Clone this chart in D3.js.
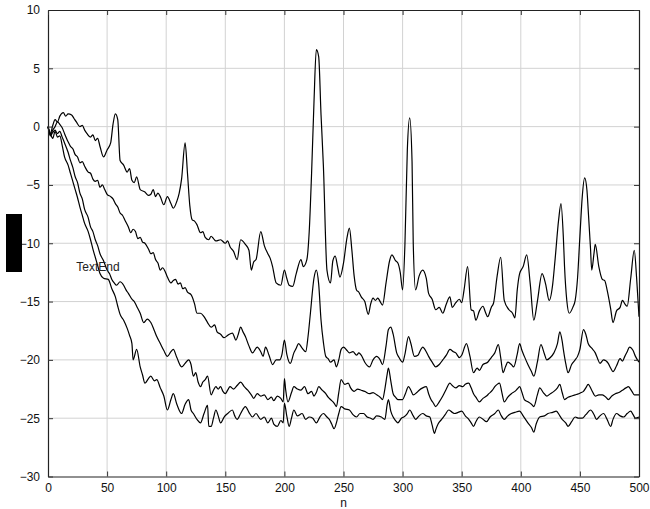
<!DOCTYPE html>
<html>
<head>
<meta charset="utf-8">
<script src="https://cdn.jsdelivr.net/npm/d3@7/dist/d3.min.js"></script>
<style>
  body { margin: 0; background: #fff; }
  text { font-family: "Liberation Sans", Arial, Helvetica, sans-serif; }
</style>
</head>
<body>
<div id="chart"></div>
<script>
// Axis ticks
var xTicks = [0, 50, 100, 150, 200, 250, 300, 350, 400, 450, 500];
var yTicks = [-30, -25, -20, -15, -10, -5, 0, 5, 10];

// Curves as [n, value]
var seriesA = [[0,0],[2,-0.6],[4,0.1],[6,0.6],[8,0.4],[10,0.9],[13,1.2],[15,0.9],[17,1.1],[20,1.0],[22,0.7],[24,0.4],[27,0.0],[29,0.1],[31,-0.3],[33,-0.6],[36,-0.9],[38,-0.7],[40,-1.2],[42,-1.0],[44,-1.7],[47,-2.6],[50,-2.0],[53,-1.4],[55,0.2],[57,1.1],[59,0.6],[61,-2.9],[64,-3.3],[67,-3.9],[69,-3.6],[71,-4.6],[73,-4.8],[75,-4.3],[78,-5.4],[82,-5.6],[85,-5.9],[87,-5.8],[89,-5.4],[91,-6.0],[93,-5.7],[95,-6.0],[98,-6.7],[101,-6.0],[104,-6.6],[106,-7.0],[109,-6.4],[111,-5.7],[113,-4.5],[116,-1.4],[118,-4.0],[120,-6.8],[122,-8.0],[124,-8.1],[126,-8.4],[129,-9.1],[131,-9.0],[133,-9.5],[136,-9.7],[138,-9.4],[140,-9.6],[142,-9.8],[146,-9.7],[150,-10.0],[152,-9.8],[154,-10.3],[157,-10.7],[160,-11.4],[163,-9.7],[167,-10.1],[170,-10.6],[172,-12.3],[174,-11.6],[176,-11.4],[180,-9.0],[183,-10.2],[186,-10.9],[188,-11.3],[190,-12.0],[193,-13.4],[197,-13.6],[200,-12.3],[202,-13.0],[204,-13.6],[207,-13.7],[210,-12.6],[214,-11.4],[216,-12.0],[219,-11.4],[221,-9.0],[223,-4.0],[225,2.0],[227,6.6],[229,6.0],[231,1.0],[233,-3.4],[236,-12.3],[239,-13.4],[241,-11.5],[243,-11.1],[245,-12.0],[247,-12.9],[250,-11.7],[253,-9.5],[255,-8.7],[257,-10.5],[259,-12.8],[261,-14.0],[263,-14.2],[265,-14.6],[268,-15.0],[271,-16.1],[273,-15.2],[275,-14.7],[277,-14.9],[279,-14.7],[281,-15.0],[283,-15.3],[286,-13.4],[289,-11.5],[291,-11.0],[294,-11.5],[296,-11.7],[298,-12.5],[300,-14.0],[302,-10.0],[304,-2.0],[306,0.75],[308,-3.0],[309,-10.0],[311,-14.0],[314,-12.8],[317,-12.3],[320,-13.0],[322,-14.3],[325,-14.8],[328,-15.7],[331,-15.5],[334,-16.0],[337,-15.2],[340,-14.6],[342,-15.5],[345,-15.1],[348,-14.8],[350,-15.1],[352,-14.0],[355,-12.0],[358,-15.7],[360,-15.8],[362,-16.6],[365,-15.8],[368,-15.4],[370,-15.9],[372,-16.3],[375,-15.5],[377,-15.1],[380,-12.8],[383,-11.2],[386,-14.9],[390,-15.7],[393,-16.0],[395,-16.4],[397,-14.0],[399,-12.6],[402,-12.0],[405,-11.0],[408,-13.5],[411,-16.6],[414,-15.0],[418,-12.6],[421,-13.5],[424,-14.9],[427,-13.5],[429,-11.4],[432,-8.0],[434,-6.6],[436,-9.5],[437,-12.0],[439,-15.0],[441,-16.0],[444,-15.5],[446,-14.9],[448,-13.0],[450,-9.4],[452,-6.0],[454,-4.4],[456,-5.5],[457,-7.1],[459,-10.5],[460,-12.3],[462,-10.8],[463,-10.1],[466,-12.0],[469,-13.1],[471,-13.2],[473,-14.0],[476,-15.6],[478,-16.8],[481,-15.8],[484,-15.5],[486,-14.9],[488,-15.2],[490,-15.4],[493,-13.0],[496,-10.6],[498,-13.0],[500,-16.3]];

var seriesB = [[0,0],[2,-0.7],[4,-0.3],[6,0.0],[8,0.4],[10,0.2],[12,-0.1],[14,-0.6],[17,-1.3],[19,-1.7],[21,-1.9],[23,-2.4],[25,-2.6],[27,-3.1],[29,-3.0],[31,-3.4],[34,-3.9],[36,-4.0],[38,-4.5],[40,-4.7],[42,-4.6],[44,-5.2],[46,-5.0],[48,-5.4],[50,-5.8],[53,-6.0],[55,-6.2],[57,-6.6],[59,-6.9],[61,-7.4],[63,-7.6],[65,-8.0],[68,-8.6],[70,-9.1],[72,-8.8],[74,-9.0],[76,-9.6],[78,-9.5],[80,-9.9],[82,-10.0],[85,-10.5],[87,-10.9],[89,-10.8],[91,-11.4],[93,-11.7],[95,-12.3],[97,-12.1],[99,-12.4],[101,-12.9],[104,-13.4],[106,-13.2],[108,-13.1],[110,-13.5],[112,-13.4],[114,-13.9],[116,-13.8],[118,-14.2],[121,-14.4],[124,-15.2],[126,-16.0],[129,-16.0],[132,-16.3],[135,-16.8],[138,-17.2],[141,-17.0],[143,-17.6],[146,-17.8],[149,-18.1],[152,-17.9],[156,-17.7],[159,-18.3],[161,-17.8],[163,-17.2],[165,-17.6],[167,-18.0],[170,-18.8],[173,-19.4],[177,-18.9],[180,-19.3],[182,-19.7],[184,-18.9],[187,-19.6],[190,-20.4],[193,-20.0],[196,-20.0],[198,-19.5],[200,-18.3],[202,-19.5],[205,-20.3],[208,-19.4],[210,-19.0],[212,-18.6],[215,-19.0],[218,-19.3],[220,-18.0],[222,-16.0],[225,-13.0],[227,-12.3],[229,-13.5],[231,-16.6],[233,-18.5],[235,-19.7],[237,-19.9],[239,-20.2],[242,-20.0],[244,-20.6],[246,-20.0],[248,-19.1],[250,-18.9],[253,-19.2],[255,-19.4],[258,-19.3],[261,-19.6],[263,-19.4],[265,-19.6],[268,-20.2],[272,-20.6],[275,-20.0],[278,-19.7],[281,-20.0],[283,-20.4],[286,-18.8],[288,-17.4],[290,-17.2],[292,-17.8],[295,-19.4],[297,-19.8],[300,-20.2],[302,-19.5],[305,-18.0],[307,-18.6],[310,-19.7],[313,-19.6],[315,-19.2],[317,-18.9],[320,-19.3],[322,-19.7],[325,-20.2],[328,-20.6],[331,-20.4],[334,-20.0],[337,-19.6],[340,-19.1],[343,-19.3],[345,-19.4],[348,-19.8],[350,-19.6],[354,-18.6],[357,-19.7],[360,-21.1],[363,-20.7],[365,-20.9],[368,-20.4],[372,-20.2],[375,-19.8],[378,-19.4],[381,-18.7],[383,-19.8],[385,-21.1],[387,-20.6],[389,-20.2],[392,-20.4],[394,-20.6],[397,-19.5],[399,-18.6],[401,-19.2],[403,-19.7],[406,-20.4],[409,-21.0],[411,-21.4],[414,-20.2],[417,-18.7],[420,-19.5],[422,-20.0],[425,-19.8],[428,-19.4],[431,-18.6],[433,-17.6],[435,-18.4],[436,-19.1],[438,-20.3],[440,-21.1],[443,-20.4],[446,-20.0],[448,-19.7],[450,-19.1],[453,-17.4],[455,-17.8],[457,-18.6],[460,-19.0],[463,-19.4],[465,-19.9],[467,-20.3],[470,-20.0],[474,-20.3],[476,-20.7],[478,-21.0],[481,-20.5],[484,-19.9],[486,-20.1],[488,-19.7],[490,-19.3],[492,-18.9],[495,-19.2],[497,-19.7],[500,-20.2]];

var seriesC = [[0,0],[2,-0.8],[4,-0.5],[6,-0.3],[8,-0.6],[10,-0.4],[12,-0.9],[14,-1.4],[17,-2.2],[19,-2.9],[21,-3.5],[23,-4.3],[25,-4.8],[27,-5.7],[29,-6.2],[31,-7.1],[34,-7.8],[36,-8.6],[38,-9.0],[40,-9.7],[42,-10.2],[44,-10.9],[47,-11.5],[50,-12.3],[52,-12.6],[54,-13.1],[56,-13.4],[58,-13.6],[61,-13.3],[64,-13.6],[66,-14.0],[68,-14.3],[71,-14.8],[73,-15.0],[75,-15.4],[78,-16.0],[81,-16.8],[84,-16.5],[87,-16.8],[90,-17.5],[92,-18.0],[95,-18.6],[98,-19.2],[101,-19.7],[104,-19.3],[106,-19.1],[109,-19.8],[113,-20.6],[116,-20.3],[119,-20.0],[121,-20.4],[123,-21.4],[125,-21.1],[127,-21.9],[129,-22.3],[131,-21.9],[133,-21.7],[135,-21.4],[138,-23.0],[140,-22.6],[142,-22.3],[144,-22.5],[146,-22.3],[148,-22.7],[150,-22.9],[152,-22.6],[154,-22.3],[157,-22.5],[160,-22.2],[163,-21.9],[166,-22.3],[169,-22.6],[172,-23.0],[174,-23.3],[177,-22.9],[180,-23.1],[183,-23.0],[186,-23.4],[189,-23.2],[191,-23.5],[194,-23.1],[197,-23.3],[199,-23.6],[200,-21.6],[201,-22.5],[203,-23.6],[206,-22.8],[208,-22.3],[211,-22.5],[214,-22.6],[217,-22.3],[220,-22.9],[223,-22.7],[225,-23.1],[227,-22.8],[229,-22.3],[232,-22.6],[235,-22.9],[237,-23.2],[239,-23.4],[242,-23.7],[244,-24.0],[246,-22.8],[248,-21.7],[251,-22.1],[254,-22.0],[256,-22.4],[259,-22.7],[262,-22.5],[265,-22.6],[268,-22.7],[272,-22.9],[275,-22.8],[278,-23.0],[281,-23.2],[283,-23.4],[285,-22.5],[287,-21.2],[288,-20.7],[290,-21.8],[292,-22.9],[294,-23.2],[296,-23.4],[300,-23.4],[302,-23.0],[305,-22.3],[307,-22.6],[309,-23.0],[312,-22.8],[314,-22.6],[317,-22.4],[320,-22.3],[322,-22.9],[324,-23.4],[326,-23.7],[328,-24.0],[331,-23.6],[334,-23.1],[337,-22.5],[340,-22.0],[342,-22.2],[345,-22.4],[348,-22.2],[351,-22.3],[353,-22.1],[356,-22.0],[358,-22.4],[360,-22.9],[362,-23.2],[365,-23.6],[368,-23.3],[371,-23.1],[373,-22.9],[376,-22.6],[378,-22.3],[380,-22.1],[382,-22.0],[384,-22.8],[386,-23.6],[389,-23.2],[392,-22.9],[395,-22.7],[397,-22.5],[399,-22.3],[401,-22.8],[403,-23.4],[406,-23.6],[409,-23.8],[411,-24.0],[414,-23.0],[416,-22.4],[419,-22.8],[422,-23.1],[425,-22.9],[428,-22.7],[431,-22.4],[433,-22.1],[435,-22.8],[437,-23.4],[440,-23.2],[443,-23.1],[446,-23.0],[449,-22.9],[451,-22.8],[453,-22.7],[455,-22.4],[457,-22.1],[460,-22.6],[463,-23.1],[466,-23.0],[469,-23.0],[472,-23.2],[474,-23.4],[477,-23.1],[480,-22.9],[483,-22.8],[486,-22.6],[489,-22.4],[491,-22.3],[494,-22.7],[496,-23.0],[500,-23.0]];

var seriesD = [[0,0],[2,-0.6],[4,-1.0],[6,-0.4],[8,-0.9],[10,-0.8],[12,-1.6],[14,-2.6],[17,-3.3],[19,-4.0],[21,-4.7],[23,-5.4],[25,-6.1],[27,-6.9],[29,-7.6],[31,-8.3],[34,-9.0],[36,-9.7],[38,-10.5],[40,-11.2],[42,-11.9],[44,-12.6],[47,-13.0],[51,-13.1],[54,-13.9],[57,-14.6],[59,-15.4],[61,-16.1],[64,-16.6],[67,-17.3],[69,-17.9],[71,-18.6],[72,-20.0],[75,-19.1],[78,-20.6],[80,-21.3],[82,-22.0],[85,-21.6],[87,-21.4],[90,-21.8],[92,-21.7],[95,-22.4],[98,-23.1],[101,-24.3],[104,-23.4],[106,-22.9],[109,-23.8],[113,-24.6],[116,-23.8],[119,-23.4],[121,-24.3],[123,-24.6],[126,-25.1],[129,-25.4],[132,-24.6],[135,-23.9],[136,-25.7],[138,-25.7],[140,-25.0],[142,-24.3],[144,-24.8],[146,-25.4],[149,-24.9],[152,-24.6],[156,-24.3],[158,-24.8],[160,-25.1],[163,-24.6],[167,-24.0],[170,-24.5],[173,-24.9],[176,-24.6],[180,-25.1],[183,-24.9],[186,-25.4],[189,-25.0],[191,-25.5],[194,-25.7],[197,-25.2],[199,-25.4],[200,-23.7],[202,-24.8],[204,-25.7],[206,-25.0],[208,-24.3],[211,-24.8],[215,-24.6],[218,-25.1],[221,-24.9],[224,-25.0],[227,-25.4],[230,-24.9],[233,-24.6],[236,-24.9],[238,-25.1],[240,-25.5],[242,-25.9],[244,-25.4],[246,-24.6],[248,-24.0],[251,-24.2],[255,-24.3],[258,-24.7],[261,-24.9],[264,-24.6],[267,-24.6],[270,-24.9],[273,-25.0],[275,-25.1],[278,-24.8],[282,-24.9],[285,-25.1],[287,-23.8],[288,-23.4],[290,-24.4],[292,-24.9],[294,-25.2],[296,-25.4],[299,-25.0],[301,-24.9],[304,-24.6],[306,-24.3],[309,-24.8],[311,-25.1],[314,-24.8],[317,-24.6],[320,-24.8],[323,-24.9],[325,-25.6],[327,-26.3],[328,-26.0],[330,-25.5],[333,-25.1],[336,-24.7],[339,-24.3],[342,-24.5],[344,-24.6],[347,-24.5],[350,-24.4],[353,-24.8],[356,-25.1],[358,-25.4],[360,-25.7],[362,-25.3],[365,-24.9],[368,-25.1],[371,-25.3],[374,-24.9],[378,-24.6],[381,-24.3],[383,-24.7],[386,-25.1],[389,-24.8],[392,-24.6],[395,-24.5],[399,-24.4],[402,-24.8],[406,-25.4],[409,-25.8],[411,-26.2],[413,-25.5],[416,-24.9],[420,-24.8],[423,-24.6],[427,-24.5],[430,-24.4],[433,-24.8],[435,-25.1],[438,-25.4],[440,-25.7],[443,-25.3],[446,-24.9],[449,-25.0],[452,-25.0],[455,-24.7],[459,-24.3],[462,-24.7],[464,-25.1],[467,-24.8],[470,-24.6],[473,-25.1],[476,-25.7],[478,-25.1],[481,-24.6],[484,-24.8],[487,-24.9],[490,-24.6],[493,-24.4],[495,-24.7],[497,-25.0],[500,-24.9]];

var allSeries = [seriesA, seriesB, seriesC, seriesD];

//Width and height
var w = 650;
var h = 509;
var plotLeft = 48, plotRight = 639, plotTop = 10, plotBottom = 476.5;

var xScale = d3.scaleLinear().domain([0, 500]).range([plotLeft, plotRight]);
var yScale = d3.scaleLinear().domain([-30, 10]).range([plotBottom, plotTop]);

var svg = d3.select("#chart")
  .append("svg")
  .attr("width", w)
  .attr("height", h);

// Grid lines
svg.append("g")
  .selectAll("line")
  .data(xTicks.slice(1, -1))
  .enter().append("line")
  .attr("x1", function(d) { return xScale(d); })
  .attr("x2", function(d) { return xScale(d); })
  .attr("y1", plotTop)
  .attr("y2", plotBottom)
  .attr("stroke", "#d2d2d2")
  .attr("stroke-width", 1);

svg.append("g")
  .selectAll("line")
  .data(yTicks.slice(1, -1))
  .enter().append("line")
  .attr("x1", plotLeft)
  .attr("x2", plotRight)
  .attr("y1", function(d) { return yScale(d); })
  .attr("y2", function(d) { return yScale(d); })
  .attr("stroke", "#d2d2d2")
  .attr("stroke-width", 1);

// Curves
var line = d3.line()
  .curve(d3.curveMonotoneX)
  .x(function(d) { return xScale(d[0]); })
  .y(function(d) { return yScale(d[1]); });

svg.append("g")
  .selectAll("path")
  .data(allSeries)
  .enter().append("path")
  .attr("d", line)
  .attr("fill", "none")
  .attr("stroke", "#000")
  .attr("stroke-width", 1.2)
  .attr("stroke-linejoin", "round");

// Axes: box with inward ticks on every side
var xAxis = d3.axisBottom(xScale).tickValues(xTicks).tickSizeInner(-5).tickSizeOuter(0).tickPadding(7);
var yAxis = d3.axisLeft(yScale).tickValues(yTicks).tickSizeInner(-5).tickSizeOuter(0).tickPadding(8);

svg.append("g")
  .attr("transform", "translate(0," + plotBottom + ")")
  .call(xAxis);
svg.append("g")
  .attr("transform", "translate(" + plotLeft + ",0)")
  .call(yAxis);

svg.append("g")
  .attr("transform", "translate(0," + plotTop + ")")
  .call(d3.axisTop(xScale).tickValues(xTicks).tickSizeInner(-5).tickSizeOuter(0).tickFormat(""));
svg.append("g")
  .attr("transform", "translate(" + plotRight + ",0)")
  .call(d3.axisRight(yScale).tickValues(yTicks).tickSizeInner(-5).tickSizeOuter(0).tickFormat(""));

svg.selectAll(".domain").attr("stroke", "#222").attr("stroke-width", 1.2);
svg.selectAll(".tick line").attr("stroke", "#333");
svg.selectAll(".tick text")
  .attr("fill", "#111")
  .style("font-size", "12px")
  .style("font-family", "'Liberation Sans', Arial, sans-serif");

// x label
svg.append("text")
  .attr("x", (plotLeft + plotRight) / 2)
  .attr("y", 507)
  .attr("text-anchor", "middle")
  .style("font-size", "12px")
  .attr("fill", "#111")
  .text("n");

// black block where the y label sits
svg.append("rect")
  .attr("x", 6)
  .attr("y", 214)
  .attr("width", 16)
  .attr("height", 58)
  .attr("fill", "#000");

// stray label inside the plot
svg.append("text")
  .attr("x", xScale(24))
  .attr("y", yScale(-12))
  .attr("dy", "0.35em")
  .style("font-size", "12px")
  .attr("fill", "#222")
  .text("TextEnd");
</script>
</body>
</html>
